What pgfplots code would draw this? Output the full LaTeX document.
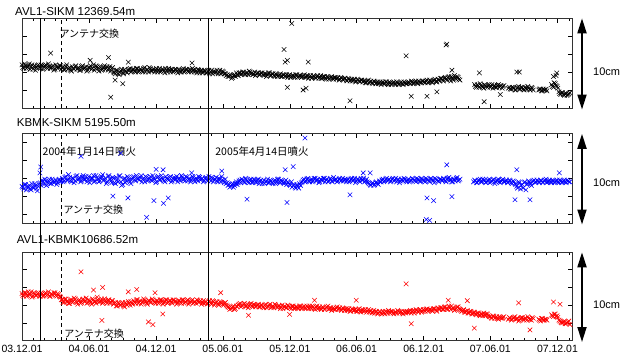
\documentclass[border=0pt]{standalone}
\usepackage{pgfplots}
\pgfplotsset{compat=1.18}
\usepackage{pgfplotstable}
\usepackage{fontspec}
\setmainfont{Liberation Sans}
\newfontfamily\jp{Noto Sans CJK JP}
\usetikzlibrary{arrows.meta,calc}

\pgfplotstableread{
d B U R
0 4.8 4.1 5.3
5 4.4 3.8 5.0
10 4.7 4.3 5.4
15 4.5 3.9 5.1
20 4.9 4.2 5.2
25 4.6 3.7 5.5
30 4.3 4.0 5.0
35 4.7 4.4 5.3
40 4.5 3.9 5.1
45 4.8 4.1 5.4
50 4.4 4.5 5.0
55 4.7 4.8 5.3
60 4.6 4.3 5.1
65 4.8 4.7 5.4
70 4.4 4.5 5.2
75 4.6 4.9 5.0
80 4.5 4.4 5.3
85 4.7 4.7 5.1
90 4.3 4.6 5.4
95 4.6 4.3 5.0
100 4.5 4.8 5.2
105 4.7 4.6 4.9
110 4.5 5.0 4.6
115 4.2 4.7 4.3
120 4.6 5.2 4.7
125 4.3 4.8 4.4
130 4.5 5.1 4.2
135 4.1 4.6 4.6
140 4.4 5.0 4.4
145 4.6 4.7 4.7
150 4.3 5.3 4.3
155 4.5 4.9 4.5
160 4.2 4.6 4.2
165 4.7 5.1 4.6
170 4.4 4.8 4.4
175 4.6 5.2 4.8
180 4.2 4.9 4.3
185 4.5 4.5 4.5
190 4.3 5.0 4.1
195 4.8 5.3 4.6
200 4.4 4.7 4.4
205 4.6 5.1 4.9
210 4.1 4.6 4.3
215 4.5 5.0 4.5
220 4.3 5.4 4.2
225 4.7 4.8 4.7
230 4.4 4.4 4.4
235 4.2 5.2 4.6
240 4.6 4.9 4.2
245 4.4 4.5 4.5
250 4.0 5.0 4.1
255 3.8 4.4 4.3
260 4.2 4.8 3.9
265 3.7 5.2 4.2
270 4.1 4.6 4.0
275 3.9 4.3 4.3
280 4.3 5.0 3.8
285 4.0 4.7 4.1
290 4.2 5.1 4.4
295 4.4 4.6 4.0
300 4.1 4.9 4.2
305 4.3 5.2 4.5
310 4.0 4.7 4.2
315 4.4 5.0 4.6
320 4.1 4.8 4.3
325 4.3 5.3 4.1
330 4.0 4.9 4.4
335 4.5 4.6 4.6
340 4.2 5.1 4.2
345 4.0 4.8 4.5
350 4.4 5.2 4.3
355 4.1 4.7 4.7
360 4.3 5.0 4.4
365 4.2 4.5 4.2
370 4.0 5.1 4.5
375 4.4 4.8 4.3
380 4.1 5.3 4.6
385 4.3 4.9 4.1
390 3.9 4.6 4.4
395 4.2 5.0 4.6
400 4.4 4.8 4.3
405 4.0 5.2 4.5
410 4.3 4.7 4.2
415 4.1 5.1 4.6
420 4.3 4.9 4.4
425 3.9 4.6 4.3
430 4.2 5.0 4.5
435 4.0 5.3 4.2
440 4.4 4.8 4.6
445 4.1 4.7 4.3
450 4.3 5.1 4.5
455 4.0 4.9 4.1
460 4.2 4.6 4.4
465 4.4 5.2 4.6
470 4.0 4.8 4.3
475 4.1 5.0 4.2
480 4.3 4.7 4.5
485 3.9 5.1 4.4
490 4.2 4.9 4.1
495 4.0 4.6 4.5
500 4.1 5.0 4.3
505 3.9 4.8 4.1
510 4.2 5.2 4.4
515 4.0 4.7 4.2
520 3.8 5.0 4.5
525 4.1 4.8 4.0
530 4.0 5.1 4.3
535 3.8 4.6 4.1
540 4.2 4.9 4.4
545 3.9 5.2 4.2
550 4.0 4.7 4.0
555 3.8 4.9 4.3
560 3.7 4.5 3.9
565 3.5 4.3 3.7
570 3.6 4.1 3.6
575 3.4 4.4 3.8
580 3.7 4.2 3.5
585 3.9 4.6 3.9
590 3.6 4.5 4.0
595 3.9 4.8 4.2
600 3.8 4.9 3.9
605 4.0 4.6 4.1
610 3.7 5.0 3.8
615 3.9 4.7 4.1
620 4.1 4.5 3.9
625 3.8 4.9 4.2
630 3.7 4.6 3.8
635 4.0 4.8 4.0
640 3.8 4.5 3.9
645 3.9 4.9 4.1
650 3.7 4.7 3.8
655 3.9 4.4 4.0
660 3.6 4.8 3.7
665 3.8 4.6 4.1
670 3.7 4.9 3.8
675 3.9 4.5 4.0
680 3.6 4.7 3.7
685 3.8 4.4 3.9
690 3.5 4.8 4.1
695 3.7 4.6 3.8
700 3.6 4.9 3.9
705 3.8 4.5 3.6
710 3.5 4.7 4.0
715 3.7 4.4 3.8
720 3.6 4.8 3.7
725 3.4 4.6 4.0
730 3.7 4.3 3.8
735 3.5 4.6 3.6
740 3.6 4.2 3.9
745 3.4 4.0 3.7
750 3.7 4.3 3.8
755 3.5 3.9 3.6
760 3.6 4.2 3.9
765 3.5 4.6 3.7
770 3.7 4.9 3.9
775 3.4 4.7 3.6
780 3.6 5.0 3.8
785 3.5 4.6 3.9
790 3.3 4.9 3.6
795 3.6 4.7 3.8
800 3.4 5.0 3.5
805 3.5 4.8 3.9
810 3.3 4.5 3.7
815 3.6 4.9 3.6
820 3.4 4.7 3.8
825 3.5 5.0 3.5
830 3.2 4.8 3.7
835 3.4 4.6 3.9
840 3.3 4.9 3.6
845 3.5 4.7 3.4
850 3.2 5.1 3.7
855 3.4 4.8 3.5
860 3.3 4.6 3.8
865 3.1 4.9 3.6
870 3.4 4.7 3.5
875 3.2 5.0 3.7
880 3.3 4.8 3.4
885 3.1 4.6 3.6
890 3.3 4.9 3.5
895 3.0 4.7 3.3
900 3.2 5.0 3.6
905 3.1 4.8 3.4
910 2.9 4.5 3.5
915 3.2 4.9 3.3
920 3.0 4.7 3.6
925 3.1 5.0 3.2
930 2.9 4.8 3.5
935 3.0 4.6 3.4
940 2.8 4.9 3.2
945 3.1 4.5 3.5
950 2.9 4.3 3.3
955 2.8 4.4 3.1
960 3.0 4.2 3.4
965 2.7 4.5 3.2
970 2.9 4.4 3.0
975 2.8 4.7 3.3
980 2.6 4.6 3.1
985 2.9 4.9 3.3
990 2.7 4.7 3.0
995 2.9 5.0 3.2
1000 2.6 4.8 3.4
1005 2.8 4.6 3.1
1010 2.7 4.9 3.3
1015 2.9 4.7 3.0
1020 2.6 5.0 3.2
1025 2.8 4.8 3.4
1030 2.7 4.5 3.1
1035 2.9 4.9 3.3
1040 2.6 4.7 3.0
1045 2.8 4.9 3.2
1050 2.7 4.6 3.3
1055 2.9 4.9 3.2
1060 2.7 4.7 3.4
1065 2.9 5.0 3.3
1070 2.8 4.8 3.1
1075 3.0 4.6 3.5
1080 2.7 4.9 3.3
1085 2.9 4.7 3.4
1090 2.8 5.0 3.2
1095 3.0 4.8 3.5
1100 2.8 4.6 3.3
1105 3.1 4.9 3.6
1110 2.9 4.7 3.4
1115 3.0 5.0 3.5
1120 2.8 4.8 3.3
1125 3.1 4.5 3.6
1130 2.9 4.9 3.4
1135 3.2 4.7 3.7
1140 3.0 4.9 3.5
1145 3.3 4.8 3.7
1150 3.0 5.0 3.5
1155 3.4 4.7 3.8
1160 3.1 4.9 3.6
1165 3.5 5.1 3.9
1170 3.0 4.8 3.5
1175 3.3 4.6 3.7
1180 3.6 4.9 3.4
1185 3.2 5.0 3.6
1190 3.4 4.7 3.8
1195 3.1 4.9 3.5
1200 nan nan 3.3
1205 nan nan 3.5
1210 nan nan 3.2
1215 nan nan 3.4
1220 nan nan 3.1
1225 nan nan 3.3
1230 nan nan 3.0
1235 2.6 4.8 3.2
1240 2.3 4.5 2.9
1245 2.5 4.7 3.1
1250 2.7 4.9 2.8
1255 2.4 4.6 3.0
1260 2.2 4.8 3.1
1265 2.5 4.5 2.8
1270 2.3 4.7 3.0
1275 2.6 4.9 2.7
1280 2.4 4.6 2.6
1285 2.2 4.8 2.8
1290 2.5 4.4 2.5
1295 2.3 4.7 2.7
1300 2.6 4.9 2.4
1305 2.4 4.5 2.6
1310 2.2 4.8 2.5
1315 2.5 4.6 2.7
1320 nan 4.7 nan
1325 nan 4.5 nan
1330 2.3 4.8 2.6
1335 2.1 4.5 2.3
1340 2.3 4.7 2.5
1345 2.0 4.4 2.7
1350 2.2 4.1 2.4
1355 2.4 4.6 2.2
1360 2.1 3.8 2.5
1365 2.3 4.3 2.6
1370 2.0 4.5 2.3
1375 2.2 3.7 2.5
1380 2.4 4.4 2.7
1385 2.1 4.6 2.4
1390 2.3 4.2 2.3
1395 2.0 4.7 2.5
1400 nan 4.5 nan
1405 nan 4.8 nan
1410 2.0 4.6 2.4
1415 2.1 4.8 2.2
1420 1.9 4.5 2.5
1425 2.0 4.7 2.3
1430 2.1 4.9 2.4
1435 nan 4.6 nan
1440 nan 4.8 nan
1445 2.6 4.5 2.9
1450 2.3 4.7 2.7
1455 2.7 4.6 3.0
1460 2.4 4.8 2.8
1465 1.8 4.5 2.3
1470 1.5 4.7 2.1
1475 1.7 4.6 2.0
1480 1.4 4.8 2.2
1485 1.6 4.5 1.9
1490 1.5 4.7 2.1
1495 1.7 4.6 1.8
}\maindata

\pgfplotstableread{
d B U R
2 4.5 4.0 5.1
7 4.9 4.3 5.4
12 4.4 3.7 5.0
17 4.7 4.1 5.5
22 4.3 3.8 5.2
27 4.8 4.4 4.9
32 4.6 3.9 5.4
37 4.2 4.2 5.1
42 4.7 3.6 5.3
47 4.5 4.4 5.0
52 4.8 4.2 5.4
57 4.3 4.6 5.0
62 4.7 4.9 5.3
67 4.5 4.2 5.1
72 4.9 4.7 5.5
77 4.4 4.4 5.0
82 4.6 4.9 5.2
87 4.2 4.5 5.4
92 4.8 4.8 5.1
97 4.4 4.5 5.3
102 4.7 4.9 5.0
107 4.3 4.7 4.6
112 4.6 4.6 4.3
117 4.3 5.1 4.7
122 4.8 4.8 4.4
127 4.4 5.4 4.2
132 4.2 4.7 4.6
137 4.6 5.0 4.3
142 4.3 4.5 4.8
147 4.7 5.2 4.4
152 4.4 4.8 4.1
157 4.2 5.1 4.6
162 4.6 4.7 4.3
167 4.3 5.3 4.7
172 4.5 4.9 4.4
177 4.1 4.6 4.2
182 4.5 5.2 4.6
187 4.7 4.8 4.3
192 4.4 5.0 4.7
197 4.2 4.6 4.4
202 4.7 5.3 4.2
207 4.4 4.9 4.6
212 4.6 4.7 4.4
217 4.2 5.2 4.7
222 4.5 4.8 4.3
227 4.3 5.0 4.5
232 4.6 4.6 4.2
237 4.4 5.3 4.6
242 4.1 4.7 4.3
247 4.5 5.1 4.5
252 3.9 4.5 4.2
257 4.2 5.1 3.9
262 3.8 4.6 4.3
267 4.0 5.3 4.0
272 4.3 4.2 4.2
277 3.8 4.9 3.9
282 4.1 4.5 4.3
287 3.9 5.2 4.0
292 4.3 4.8 4.2
297 4.0 4.4 4.4
302 4.3 5.1 4.1
307 4.1 4.8 4.3
312 4.4 5.3 4.6
317 4.0 4.9 4.2
322 4.3 5.1 4.5
327 4.1 4.6 4.3
332 4.4 5.0 4.7
337 4.0 5.2 4.4
342 4.3 4.7 4.1
347 4.5 5.0 4.5
352 4.1 4.8 4.3
357 4.3 5.3 4.6
362 4.0 4.9 4.3
367 4.4 4.6 4.5
372 4.2 5.2 4.2
377 4.0 4.8 4.6
382 4.3 5.0 4.4
387 4.1 4.7 4.3
392 4.4 5.2 4.6
397 4.0 4.9 4.2
402 4.2 5.1 4.5
407 4.3 4.6 4.3
412 4.0 5.0 4.6
417 4.3 4.8 4.4
422 4.1 5.2 4.1
427 4.3 4.9 4.5
432 4.0 4.7 4.3
437 4.2 5.1 4.6
442 4.0 4.9 4.2
447 4.3 5.2 4.4
452 4.1 4.7 4.6
457 4.3 5.0 4.3
462 4.0 4.8 4.5
467 4.2 5.1 4.2
472 4.3 4.6 4.4
477 3.9 4.9 4.6
482 4.2 5.2 4.3
487 4.1 4.8 4.5
492 3.9 5.0 4.3
497 4.2 4.7 4.2
502 3.9 5.1 4.4
507 4.1 4.7 4.2
512 3.8 4.9 4.5
517 4.2 5.1 4.1
522 4.0 4.6 4.4
527 3.9 4.9 4.2
532 4.2 4.7 4.4
537 4.0 5.0 4.0
542 3.8 4.6 4.3
547 4.1 4.8 4.1
552 3.8 4.5 4.2
557 3.6 4.4 4.0
562 3.5 4.2 3.8
567 3.7 4.0 3.5
572 3.3 4.3 3.7
577 3.6 4.0 3.9
582 3.5 4.4 3.6
587 3.7 4.3 3.8
592 3.9 4.7 4.1
597 3.7 4.5 3.8
602 4.0 4.8 4.0
607 3.8 4.5 4.2
612 3.9 4.9 3.9
617 3.7 4.6 3.7
622 4.0 4.8 4.1
627 3.9 4.5 3.9
632 3.8 4.9 4.1
637 3.6 4.6 3.8
642 3.9 4.8 4.0
647 3.7 4.4 3.8
652 3.9 4.8 4.0
657 3.7 4.6 3.8
662 3.8 4.4 4.0
667 3.5 4.7 3.7
672 3.9 4.5 3.9
677 3.6 4.8 4.1
682 3.8 4.5 3.8
687 3.6 4.7 3.7
692 3.8 4.4 4.0
697 3.5 4.9 3.7
702 3.7 4.6 3.9
707 3.5 4.8 3.8
712 3.7 4.5 3.6
717 3.5 4.6 3.9
722 3.7 4.3 3.7
727 3.6 4.5 3.9
732 3.4 4.2 3.7
737 3.6 4.0 3.9
742 3.5 4.3 3.6
747 3.7 3.9 3.8
752 3.4 4.1 3.7
757 3.6 4.4 3.9
762 3.4 4.5 3.6
767 3.6 4.8 3.8
772 3.4 4.6 3.7
777 3.6 4.9 3.9
782 3.3 4.7 3.6
787 3.6 4.8 3.7
792 3.4 4.6 3.9
797 3.5 5.0 3.6
802 3.3 4.7 3.8
807 3.6 4.9 3.6
812 3.4 4.6 3.8
817 3.3 4.8 3.5
822 3.5 5.0 3.7
827 3.3 4.6 3.6
832 3.5 4.9 3.8
837 3.2 4.7 3.5
842 3.4 5.0 3.7
847 3.3 4.6 3.6
852 3.4 4.8 3.5
857 3.2 4.9 3.7
862 3.4 4.7 3.5
867 3.2 5.0 3.7
872 3.3 4.8 3.4
877 3.1 4.7 3.6
882 3.3 4.9 3.5
887 3.0 4.8 3.4
892 3.2 4.6 3.6
897 3.1 4.9 3.3
902 3.0 4.7 3.5
907 3.2 5.0 3.4
912 3.0 4.7 3.3
917 3.1 4.9 3.5
922 2.9 4.6 3.3
927 3.1 4.8 3.4
932 3.0 5.0 3.3
937 2.8 4.7 3.5
942 3.0 4.6 3.3
947 2.8 4.4 3.2
952 3.0 4.2 3.4
957 2.7 4.5 3.2
962 2.9 4.3 3.1
967 2.8 4.6 3.3
972 2.7 4.3 3.1
977 2.9 4.6 3.2
982 2.8 4.8 3.0
987 2.7 4.6 3.1
992 2.9 4.9 3.3
997 2.7 4.7 3.1
1002 2.9 4.9 3.2
1007 2.6 4.7 3.3
1012 2.8 5.0 3.1
1017 2.7 4.8 3.2
1022 2.9 4.6 3.1
1027 2.6 4.9 3.3
1032 2.8 4.7 3.2
1037 2.7 4.8 3.1
1042 2.9 5.0 3.3
1047 2.7 4.7 3.1
1052 2.8 4.8 3.2
1057 2.8 4.6 3.3
1062 3.0 4.8 3.1
1067 2.7 4.9 3.4
1072 2.9 4.7 3.3
1077 2.8 5.0 3.4
1082 3.0 4.8 3.2
1087 2.8 4.6 3.5
1092 3.0 4.9 3.3
1097 2.9 4.7 3.4
1102 3.0 5.0 3.5
1107 2.8 4.8 3.3
1112 3.1 4.6 3.5
1117 2.9 4.9 3.4
1122 3.0 4.7 3.6
1127 3.2 5.0 3.5
1132 2.9 4.8 3.3
1137 3.1 4.6 3.6
1142 3.3 4.9 3.7
1147 3.1 4.7 3.5
1152 3.3 4.9 3.8
1157 3.2 4.6 3.6
1162 3.4 5.0 3.5
1167 3.2 4.8 3.7
1172 3.5 4.6 3.9
1177 3.1 4.9 3.6
1182 3.3 4.7 3.5
1187 3.5 5.1 3.8
1192 3.2 4.8 3.6
1197 nan nan 3.4
1202 nan nan 3.4
1207 nan nan 3.2
1212 nan nan 3.3
1217 nan nan 3.1
1222 nan nan 3.3
1227 nan nan 3.0
1232 nan 4.6 3.2
1237 2.4 4.7 3.0
1242 2.6 4.5 3.1
1247 2.3 4.8 2.9
1252 2.5 4.6 3.0
1257 2.3 4.9 2.8
1262 2.6 4.7 2.9
1267 2.4 4.6 3.0
1272 2.5 4.8 2.8
1277 2.3 4.5 2.7
1282 2.6 4.7 2.5
1287 2.4 4.9 2.7
1292 2.3 4.6 2.6
1297 2.5 4.8 2.5
1302 2.3 4.6 2.7
1307 2.5 4.7 2.5
1312 2.4 4.9 2.6
1317 nan 4.6 nan
1322 nan 4.8 nan
1327 2.2 4.6 2.4
1332 2.1 4.7 2.5
1337 2.3 4.4 2.4
1342 2.2 4.6 2.6
1347 2.0 4.3 2.4
1352 2.3 3.9 2.5
1357 2.1 4.5 2.3
1362 2.3 4.2 2.6
1367 2.1 3.9 2.4
1372 2.3 4.6 2.5
1377 2.1 4.3 2.3
1382 2.2 4.7 2.5
1387 2.0 4.4 2.4
1392 2.2 4.6 2.6
1397 nan 4.8 nan
1402 nan 4.6 nan
1407 nan 4.7 nan
1412 2.1 4.5 2.3
1417 1.9 4.7 2.5
1422 2.1 4.6 2.3
1427 2.0 4.8 2.4
1432 1.9 4.5 2.3
1437 nan 4.7 nan
1442 nan 4.6 nan
1447 2.4 4.8 2.8
1452 2.8 4.5 3.0
1457 2.5 4.7 2.7
1462 2.2 4.6 2.6
1467 1.6 4.8 2.2
1472 1.7 4.5 2.0
1477 1.5 4.7 2.1
1482 1.6 4.6 1.9
1487 1.4 4.8 2.0
1492 1.6 4.6 2.2
}\secdata

\pgfplotstableread{
d y
78 6.1
736 9.4
715 6.5
718 5.1
724 5.3
242 1.2
254 3.1
275 2.7
236 5.6
724 2.3
767 2.0
781 5.1
1048 5.8
1159 7.1
1157 7.0
895 0.8
1062 1.3
1105 1.3
1132 1.8
1248 3.9
1261 0.7
1357 4.0
1457 3.6
1173 4.2
186 5.3
290 5.1
464 5.0
775 2.2
1305 1.5
1350 4.0
1450 3.5
1459 3.9
}\Bout

\pgfplotstableread{
d y
161 7.45
269 7.8
51 6.26
340 0.64
366 6.0
385 5.95
360 2.5
386 2.2
399 2.8
289 2.8
248 3.0
772 9.5
740 6.3
718 5.95
614 2.66
723 2.3
463 5.6
545 5.8
1159 6.5
1105 2.8
1123 2.5
1103 0.4
1112 0.3
1173 2.95
1350 5.95
1345 2.6
1386 2.6
1466 5.6
895 3.15
931 5.6
950 5.6
49 5.6
}\Uout

\pgfplotstableread{
d y
161 7.76
218 2.27
345 2.1
357 1.8
313 5.76
363 5.4
220 6.0
290 5.5
542 5.4
730 2.95
618 2.85
384 3.0
195 5.7
1048 6.4
1062 1.9
1234 1.4
1163 4.55
1215 4.5
1355 4.25
1386 1.2
1450 4.35
1468 4.1
912 4.55
798 4.55
}\Rout

\pgfplotsset{
  panel/.style={
    scale only axis, width=550.5pt, xmin=0, xmax=1502, ymin=0, ymax=10,
    anchor=north west,
    axis line style={line width=0.6pt, black!80},
    xtick={0,183,366,548,731,913,1096,1278,1461},
    minor xtick={31,62,91,122,152,213,244,275,305,336,397,428,456,487,517,578,609,640,670,701,762,793,821,852,882,943,974,1005,1035,1066,1127,1158,1186,1217,1247,1308,1339,1370,1400,1431,1492},
    xticklabels={}, yticklabels={},
    tick align=inside, xtick pos=both, ytick pos=both,
    major tick length=4.5pt, minor tick length=2.5pt,
    tick style={line width=0.5pt, black},
    unbounded coords=discard,
    /pgf/number format/assume math mode=true,
    ticklabel style={font=\fontsize{10.5}{12}\selectfont},
  },
  mk/.style={only marks, mark=x, mark size=3.2pt, mark options={line width=0.55pt}},
}
\tikzset{vdash/.style={line width=0.6pt, dash pattern=on 4pt off 3pt}}

\begin{document}
\begin{tikzpicture}
\useasboundingbox (0pt,0pt) rectangle (621pt,-360pt);

% Panel 1
\begin{axis}[panel, name=p1, at={(22pt,-18pt)}, height=90pt, ytick={2,4,6,8}]
\addplot[mk, black] table[x=d,y=B]{\maindata};
\addplot[mk, black] table[x=d,y=B]{\secdata};
\addplot[mk, black] table[x=d,y=y]{\Bout};
\draw[vdash] (axis cs:106,0) -- (axis cs:106,10);
\node[anchor=west, inner sep=0pt, font={\jp\fontsize{10}{12}\selectfont}] at (axis cs:102,8.3) {アンテナ交換};
\coordinate (t1) at (axis cs:51,10);
\coordinate (t2) at (axis cs:508,10);
\coordinate (lab1) at (axis cs:1502,4.0);
\end{axis}

% Panel 2
\begin{axis}[panel, name=p2, at={(22pt,-133.5pt)}, height=89.5pt, ytick={1,3,5,7,9}]
\addplot[mk, blue] table[x=d,y=U]{\maindata};
\addplot[mk, blue] table[x=d,y=U]{\secdata};
\addplot[mk, blue] table[x=d,y=y]{\Uout};
\draw[vdash] (axis cs:106,0) -- (axis cs:106,10);
\node[anchor=west, inner sep=0pt, font={\jp\fontsize{10.5}{12}\selectfont}] at (axis cs:56,8.0) {2004年1月14日噴火};
\node[anchor=west, inner sep=0pt, font={\jp\fontsize{10.5}{12}\selectfont}] at (axis cs:527,8.0) {2005年4月14日噴火};
\node[anchor=west, inner sep=0pt, font={\jp\fontsize{10}{12}\selectfont}] at (axis cs:113,1.46) {アンテナ交換};
\coordinate (lab2) at (axis cs:1502,4.46);
\end{axis}

% Panel 3
\begin{axis}[panel, name=p3, at={(22pt,-252pt)}, height=88.5pt, ytick={2,4,6,8},
  xticklabels={03.12.01,04.06.01,04.12.01,05.06.01,05.12.01,06.06.01,06.12.01,07.06.01,07.12.01},
  xticklabel style={yshift=-1pt}]
\addplot[mk, red] table[x=d,y=R]{\maindata};
\addplot[mk, red] table[x=d,y=R]{\secdata};
\addplot[mk, red] table[x=d,y=y]{\Rout};
\draw[vdash] (axis cs:106,0) -- (axis cs:106,10);
\node[anchor=west, inner sep=0pt, font={\jp\fontsize{10}{12}\selectfont}] at (axis cs:115,0.76) {アンテナ交換};
\coordinate (b1) at (axis cs:51,0);
\coordinate (b2) at (axis cs:508,0);
\coordinate (lab3) at (axis cs:1502,4.1);
\end{axis}

% eruption lines
\draw[line width=0.6pt] (t1) -- (b1);
\draw[line width=0.6pt] (t2) -- (b2);

% titles
\node[anchor=west, inner sep=0pt, font=\fontsize{11.5}{13}\selectfont] at ($(p1.north west)+(-7pt,6.5pt)$) {AVL1-SIKM 12369.54m};
\node[anchor=west, inner sep=0pt, font=\fontsize{11.5}{13}\selectfont] at ($(p2.north west)+(-5.3pt,10.8pt)$) {KBMK-SIKM 5195.50m};
\node[anchor=west, inner sep=0pt, font=\fontsize{11.5}{13}\selectfont] at ($(p3.north west)+(-5.3pt,12.7pt)$) {AVL1-KBMK10686.52m};

% 10cm arrows
\foreach \p/\l in {p1/lab1,p2/lab2,p3/lab3}{
  \draw[line width=1.8pt, {Triangle[length=15pt,width=9pt]}-{Triangle[length=15pt,width=9pt]}]
    ($(\p.north east)+(9.5pt,-0.3pt)$) -- ($(\p.south east)+(9.5pt,-1.5pt)$);
  \node[anchor=west, inner sep=0pt, font=\fontsize{11}{13}\selectfont] at ($(\l)+(20.5pt,0)$) {10cm};
}
\end{tikzpicture}
\end{document}
